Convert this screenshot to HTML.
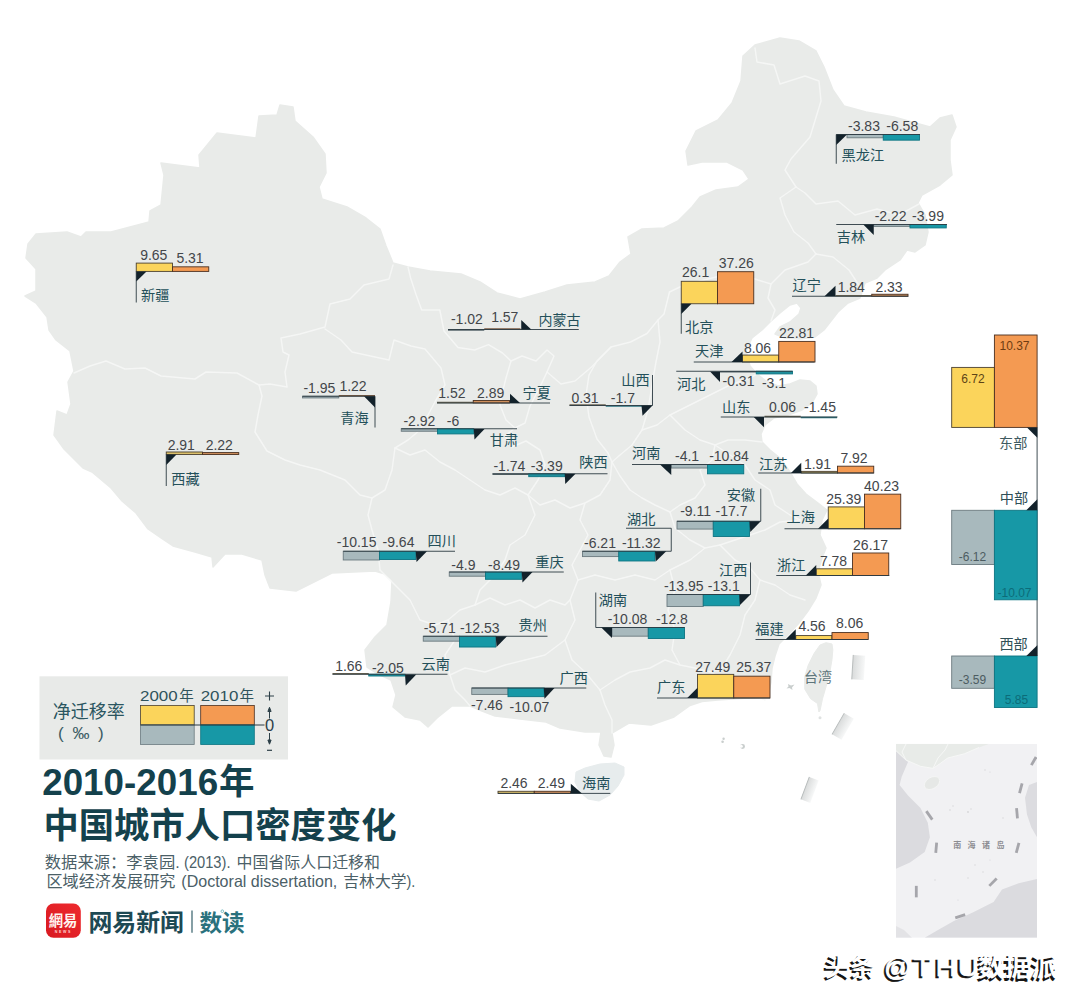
<!DOCTYPE html>
<html lang="zh"><head><meta charset="utf-8"><title>2010-2016年 中国城市人口密度变化</title>
<style>
html,body{margin:0;padding:0;background:#fff}
body{width:1080px;height:1006px;overflow:hidden;font-family:"Liberation Sans","Noto Sans CJK SC",sans-serif}
svg{display:block}
svg text{font-family:"Liberation Sans","Noto Sans CJK SC",sans-serif}
</style></head><body>
<svg width="1080" height="1006" viewBox="0 0 1080 1006"><polygon points="280,105 293,107 295,121 313,137 325,154 326,173 319,187 322,199 347,207 366,218 380,229 386,246 393,263 408,267 430,271 461,274 480,282 497,293 520,299 545,292 567,285 595,282 609,276 620,262 631,254 628,237 642,229 664,228 678,221 692,207 700,197 716,190 738,187 749,179 743,170 727,162 702,162 688,165 686,151 696,131 718,120 732,103 741,81 743,56 755,45 780,38 799,41 816,51 824,67 833,90 844,106 866,112 894,117 912,122 930,127 940,118 952,115 956,127 950,140 950,160 952,175 940,185 922,195 918,203 925,215 928,232 925,245 915,252 907,250 900,260 885,270 877,278 865,283 860,298 848,303 838,312 831,321 824,330 815,337 800,339 785,338 775,334 780,327 790,322 799,314 801,308 797,303 790,305 780,313 770,322 762,330 752,338 746,351 750,366 757,374 766,381 778,386 790,384 800,380 810,381 816,386 817,394 812,403 802,410 788,415 774,418 765,425 761,434 762,442 770,450 780,458 790,472 797,484 806,494 818,503 827,510 822,520 820,535 826,548 822,558 818,572 821,585 816,598 808,611 799,623 789,634 779,644 775,656 772,668 771,682 768,696 758,697.5 740,698.5 718,700 702,701.5 690,705.5 674,717 651,725 629,723 612,733 614,745 611,757 604,756 599,745 601,732 585,732 560,728 546,722 520,719 495,716 482,711 470,706 452,706 437,718 428,727 420,720 405,717 393,707 396,695 391,680 378,674 367,667 365,650 375,637 387,625 391,602 392,580 385,574 375,571 332,573 296,591 270,588 265,575 262,560 242,554 225,554 213,567 212,557 195,552 173,546 161,538 148,529 136,513 122,501 111,488 92,472 83,468 64,449 54,435 57,411 67,415 71,404 68,382 74,371 70,351 56,340 49,330 47,317 36,303 25,296 36,291 36,269 26,258 28,244 36,234 67,232 81,237 86,232 111,232 149,222 150,211 161,205 164,175 161,163 200,168 199,155 217,133 256,138 259,116 277,115" fill="#e9ebe9" stroke="#e9ebe9" stroke-width="1.5" stroke-linejoin="round"/>
<polygon points="576,772 585,768 600,764 615,763 624,767 624,775 618,786 610,795 599,801 588,799 580,792 575,782" fill="#e7eced" stroke="#e7eced" stroke-width="1" stroke-linejoin="round"/>
<polygon points="820,645 826,642.7 832,644 832.8,650 832,659.5 829.6,673.7 826,686.8 822.5,698.7 820,710.7 818.9,712 817.5,703.5 810.6,698.7 804.8,689.2 804.6,677.3 808.2,665.3 814.1,653.4" fill="#e9ebe9" stroke="#e9ebe9" stroke-width="1" stroke-linejoin="round"/>
<g fill="none" stroke="#f8f9f8" stroke-width="1.5" stroke-linejoin="round" stroke-linecap="round" opacity="0.8">
<polyline points="74,373 90,366 106,361 125,369 145,368 161,376 195,379 206,372 237,373 259,385"/>
<polyline points="259,385 270,384 287,387 285,372 289,355 283,352 281,338 300,334 325,327 330,304 350,299 364,285 389,279 393,265"/>
<polyline points="259,385 262,396 258,415 255,432 267,451 285,460 300,465 320,470 345,480 360,495 372,498"/>
<polyline points="372,498 368,515 372,530 378,550 380,570"/>
<polyline points="325,329 341,340 352,352 375,357 389,360 394,340 411,346 425,349 441,368 445,385 436,400 428,415 420,430 408,440 395,448"/>
<polyline points="372,498 385,490 392,470 395,448"/>
<polyline points="408,267 410.6,278 416,294.5 421.7,310 439.8,310 444,331 458,347.4 474.6,350 488.5,344.6 502.5,353 511,361"/>
<polyline points="395,448 410,455 425,450 440,462 455,470 470,480 485,490 500,495 515,488 528,495"/>
<polyline points="511,361 522,356 536,361 547,350 554,356 547,372 539,389 530,406 525,423 515,428 506,420 500,405 503,390 506,378 511,361"/>
<polyline points="515,428 505,436 512,447 526,441 540,450 545,465 538,480 528,495"/>
<polyline points="547,372 561,384 575,381 591.5,367 611,347 630.5,342 647,333.5 658,320 664,314 669.5,292"/>
<polyline points="611,347 597,361 589,375 586,395 589,417 597,439 608,453 612,462"/>
<polyline points="528,495 540,505 555,500 570,508 585,503 600,495 610,480 612,462"/>
<polyline points="658,320 660,342 656,362 652,385 648,410 642,430 632,445 620,455 612,462"/>
<polyline points="669.5,292 682,286 700,281 720,276 740,274 758,280 771,284"/>
<polyline points="771,284 785,270 808,262 816,254"/>
<polyline points="816,254 808,243 794,232 785,215 780,198 796,187"/>
<polyline points="796,187 785,170 791,159 810,137 821,101 819,81 805,76 780,84 774,65 757,62 755,48"/>
<polyline points="796,187 805,193 816,204 838,201 855,215 877,209 899,215 919,204"/>
<polyline points="816,254 833,257 849,270 860,287"/>
<polyline points="771,284 768,298 775,310 771,321"/>
<polyline points="642,430 657,425 670,415 690,405 710,395 730,385 750,378 757,374"/>
<polyline points="670,415 685,430 700,440 715,445 728,440 745,440 762,442"/>
<polyline points="715,445 712,460 700,470 705,485 695,498 680,505 670,512"/>
<polyline points="612,462 620,476 630,490 642,498 655,505 670,512"/>
<polyline points="715,445 730,455 745,465 755,480 770,490 775,505 790,515 800,520"/>
<polyline points="670,512 675,528 690,540 705,548 720,545"/>
<polyline points="720,545 735,540 750,535 765,530 780,522 800,520"/>
<polyline points="585,503 580,520 588,535 580,550 572,565 578,580"/>
<polyline points="578,580 595,575 615,580 635,575 655,580 670,570 690,560 705,548"/>
<polyline points="670,570 675,590 668,610 675,630 672,650 680,665"/>
<polyline points="720,545 735,560 750,568 760,580 755,600 745,615 740,635 730,655 722,668 710,672"/>
<polyline points="760,580 775,585 790,595 805,600"/>
<polyline points="600,690 615,680 630,672 650,668 665,660 680,665 695,668 710,672 725,680 740,690 755,695 765,700"/>
<polyline points="600,690 605,705 612,720 612,733"/>
<polyline points="578,580 570,600 575,620 565,640 572,660 585,672 600,690"/>
<polyline points="565,640 545,655 525,660 505,665 485,672 465,668 450,675"/>
<polyline points="450,675 445,655 455,640 448,620 460,610 475,605"/>
<polyline points="475,605 490,598 505,605 520,600 535,608 550,600 565,605 570,600"/>
<polyline points="528,495 535,515 525,535 510,545 505,560 495,575 480,590 475,605"/>
<polyline points="380,570 395,585 410,600 420,620 435,625 448,620"/>
<polyline points="450,675 455,690 465,700 470,706"/>
</g>
<defs><linearGradient id="dg" x1="0" x2="1" y1="0" y2="0"><stop offset="0" stop-color="#d9dbdb"/><stop offset="1" stop-color="#f7f8f8"/></linearGradient></defs>
<g transform="rotate(3.5 858.5 667.5)"><rect x="852.5" y="655.25" width="12" height="24.5" fill="url(#dg)"/><line x1="852.5" x2="852.5" y1="655.25" y2="679.75" stroke="#b4b9b9" stroke-width="0.9"/></g>
<g transform="rotate(30 842.9 726.5)"><rect x="837.4" y="714.25" width="11" height="24.5" fill="url(#dg)"/><line x1="837.4" x2="837.4" y1="714.25" y2="738.75" stroke="#b4b9b9" stroke-width="0.9"/></g>
<g transform="rotate(20.6 809.8 789.9)"><rect x="804.8" y="777.9" width="10" height="24" fill="url(#dg)"/><line x1="804.8" x2="804.8" y1="777.9" y2="801.9" stroke="#b4b9b9" stroke-width="0.9"/></g>
<circle cx="820" cy="717.8" r="1.5" fill="#dfe2e1"/>
<circle cx="742.6" cy="746.5" r="2.4" fill="#c9cecd"/><circle cx="741.3" cy="746.3" r="1.5" fill="#fff"/><circle cx="723.6" cy="738.8" r="1.2" fill="#c9cecd"/><circle cx="722.6" cy="741.8" r="1.3" fill="#c9cecd"/>
<path d="M788 684l3 1.5 3.5-1-2.5 3 .5 2.5-3-2-3 .5 2-2z" fill="#c9cecd"/>
<g font-family="Liberation Sans, Noto Sans CJK SC, sans-serif">
<g><rect x="136.25" y="263.1" width="36.25" height="8.3" fill="#fbd45b" stroke="#4a4030" stroke-width="0.9"/><rect x="172.5" y="266.83" width="36.25" height="4.57" fill="#f49a52" stroke="#4a3020" stroke-width="0.9"/><polyline points="136.25,271.4 136.25,302.5" fill="none" stroke="#2b3a42" stroke-width="0.9"/><polygon points="136.25,271.4 146.5,271.4 136.25,281.6" fill="#13222b"/><text x="141" y="300" font-size="14.2" fill="#24505a">新疆</text><text x="153.75" y="259.5" font-size="14" fill="#43464a" text-anchor="middle">9.65</text><text x="190" y="263" font-size="14" fill="#43464a" text-anchor="middle">5.31</text></g>
<g><rect x="166.25" y="452" width="36.25" height="2.5" fill="#dcc06a" stroke="#4a4030" stroke-width="0.9"/><rect x="202.5" y="452.59" width="36.25" height="1.91" fill="#cf8f5c" stroke="#4a3020" stroke-width="0.9"/><polyline points="166.25,454.5 166.25,486" fill="none" stroke="#2b3a42" stroke-width="0.9"/><polygon points="166.25,454.5 176.5,454.5 166.25,465" fill="#13222b"/><text x="171.3" y="484" font-size="14.2" fill="#24505a">西藏</text><text x="181.25" y="449.5" font-size="14" fill="#43464a" text-anchor="middle">2.91</text><text x="219.25" y="449.5" font-size="14" fill="#43464a" text-anchor="middle">2.22</text></g>
<g><rect x="302.5" y="396.25" width="36.25" height="1.68" fill="#9fb0b5" stroke="#6b7a7f" stroke-width="0.9"/><line x1="338.75" x2="375" y1="395.75" y2="395.75" stroke="#7a5a42" stroke-width="1.4"/><line x1="302.5" x2="375" y1="396.25" y2="396.25" stroke="#2b3a42" stroke-width="0.9"/><polyline points="375,396.25 375,427.5" fill="none" stroke="#2b3a42" stroke-width="0.9"/><polygon points="364,396.25 375,396.25 375,407.5" fill="#13222b"/><text x="340.3" y="423" font-size="14.2" fill="#24505a">青海</text><text x="319.4" y="393" font-size="14" fill="#43464a" text-anchor="middle">-1.95</text><text x="353" y="391" font-size="14" fill="#43464a" text-anchor="middle">1.22</text></g>
<g><line x1="448" x2="484.25" y1="330" y2="330" stroke="#56646a" stroke-width="1.4"/><line x1="484.25" x2="520.5" y1="329" y2="329" stroke="#7a5a42" stroke-width="1.4"/><line x1="448" x2="578.75" y1="329.5" y2="329.5" stroke="#2b3a42" stroke-width="0.9"/><polygon points="521.25,320 521.25,329.5 531.25,329.5" fill="#13222b"/><text x="538.4" y="324.5" font-size="14" fill="#24505a">内蒙古</text><text x="466.9" y="324.25" font-size="14" fill="#43464a" text-anchor="middle">-1.02</text><text x="504.75" y="321.75" font-size="14" fill="#43464a" text-anchor="middle">1.57</text></g>
<g><line x1="437" x2="473.25" y1="402.5" y2="402.5" stroke="#6a6250" stroke-width="1.4"/><rect x="473.25" y="400.51" width="36.25" height="2.49" fill="#cf8f5c" stroke="#4a3020" stroke-width="0.9"/><line x1="437" x2="550" y1="403" y2="403" stroke="#2b3a42" stroke-width="0.9"/><polygon points="510,393.75 510,403 520,403" fill="#13222b"/><text x="522.5" y="397.7" font-size="14.2" fill="#24505a">宁夏</text><text x="451.9" y="397.5" font-size="14" fill="#43464a" text-anchor="middle">1.52</text><text x="490.6" y="397.5" font-size="14" fill="#43464a" text-anchor="middle">2.89</text></g>
<g><rect x="401.25" y="428.75" width="36.25" height="2.51" fill="#9fb0b5" stroke="#6b7a7f" stroke-width="0.9"/><rect x="437.5" y="428.75" width="36.25" height="5.16" fill="#1798a6" stroke="#0c7482" stroke-width="0.9"/><line x1="401.25" x2="517" y1="428.75" y2="428.75" stroke="#2b3a42" stroke-width="0.9"/><polygon points="473.75,429 484.5,429 474.5,439.5" fill="#13222b"/><text x="489.7" y="445.2" font-size="14.2" fill="#24505a">甘肃</text><text x="419.4" y="425.75" font-size="14" fill="#43464a" text-anchor="middle">-2.92</text><text x="453" y="425.75" font-size="14" fill="#43464a" text-anchor="middle">-6</text></g>
<g><line x1="492.5" x2="528.75" y1="474.25" y2="474.25" stroke="#56646a" stroke-width="1.4"/><rect x="528.75" y="473.75" width="36.25" height="2.92" fill="#1f8f9c" stroke="#0c7482" stroke-width="0.9"/><line x1="492.5" x2="607.5" y1="473.75" y2="473.75" stroke="#2b3a42" stroke-width="0.9"/><polygon points="564.75,473.75 575.5,473.75 565.25,484" fill="#13222b"/><text x="579.3" y="467" font-size="14.2" fill="#24505a">陕西</text><text x="509.4" y="470.5" font-size="14" fill="#43464a" text-anchor="middle">-1.74</text><text x="546.75" y="470.5" font-size="14" fill="#43464a" text-anchor="middle">-3.39</text></g>
<g><line x1="569.5" x2="605.75" y1="405" y2="405" stroke="#6a6250" stroke-width="1.4"/><line x1="605.75" x2="642" y1="406" y2="406" stroke="#2b7580" stroke-width="1.4"/><line x1="569.5" x2="652.5" y1="405.5" y2="405.5" stroke="#2b3a42" stroke-width="0.9"/><polyline points="652.5,375 652.5,405.5" fill="none" stroke="#2b3a42" stroke-width="0.9"/><polygon points="641.5,405.5 652.5,405.5 642.5,415.75" fill="#13222b"/><text x="621.3" y="385.2" font-size="14.2" fill="#24505a">山西</text><text x="585" y="402.5" font-size="14" fill="#43464a" text-anchor="middle">0.31</text><text x="622.9" y="402.5" font-size="14" fill="#43464a" text-anchor="middle">-1.7</text></g>
<g><rect x="681.25" y="281.3" width="36.25" height="22.45" fill="#fbd45b" stroke="#4a4030" stroke-width="0.9"/><rect x="717.5" y="271.71" width="36.25" height="32.04" fill="#f49a52" stroke="#4a3020" stroke-width="0.9"/><polyline points="681.25,303.75 681.25,333.75" fill="none" stroke="#2b3a42" stroke-width="0.9"/><polygon points="681.25,303.75 691.5,303.75 681.25,314" fill="#13222b"/><text x="685" y="332" font-size="14.2" fill="#24505a">北京</text><text x="695.6" y="277" font-size="14" fill="#43464a" text-anchor="middle">26.1</text><text x="736.25" y="267.5" font-size="14" fill="#43464a" text-anchor="middle">37.26</text></g>
<g><line x1="835.5" x2="871.75" y1="295.75" y2="295.75" stroke="#6a6250" stroke-width="1.4"/><rect x="871.75" y="294.25" width="36.25" height="2" fill="#cf8f5c" stroke="#4a3020" stroke-width="0.9"/><line x1="792" x2="908.25" y1="296.25" y2="296.25" stroke="#2b3a42" stroke-width="0.9"/><polygon points="824.5,296.25 835.5,296.25 835.5,285.75" fill="#13222b"/><text x="792.5" y="290.2" font-size="14.2" fill="#24505a">辽宁</text><text x="851.25" y="292" font-size="14" fill="#43464a" text-anchor="middle">1.84</text><text x="889" y="292" font-size="14" fill="#43464a" text-anchor="middle">2.33</text></g>
<g><rect x="742.5" y="355.07" width="36.25" height="6.93" fill="#fbd45b" stroke="#4a4030" stroke-width="0.9"/><rect x="778.75" y="341.4" width="36.25" height="20.6" fill="#f49a52" stroke="#4a3020" stroke-width="0.9"/><line x1="693.75" x2="814.5" y1="362" y2="362" stroke="#2b3a42" stroke-width="0.9"/><polygon points="731.5,362 742.5,362 742.5,351.5" fill="#13222b"/><text x="695.1" y="356" font-size="14.2" fill="#24505a">天津</text><text x="757.5" y="352.5" font-size="14" fill="#43464a" text-anchor="middle">8.06</text><text x="796.6" y="337.5" font-size="14" fill="#43464a" text-anchor="middle">22.81</text></g>
<g><line x1="720" x2="756.25" y1="371.75" y2="371.75" stroke="#56646a" stroke-width="1.4"/><rect x="756.25" y="371.25" width="36.25" height="2.67" fill="#1f8f9c" stroke="#0c7482" stroke-width="0.9"/><line x1="676.25" x2="792.5" y1="371.25" y2="371.25" stroke="#2b3a42" stroke-width="0.9"/><polygon points="710,371.5 720,371.5 720,382" fill="#13222b"/><text x="677" y="388.5" font-size="14.2" fill="#24505a">河北</text><text x="738.5" y="386.25" font-size="14" fill="#43464a" text-anchor="middle">-0.31</text><text x="774" y="388" font-size="14" fill="#43464a" text-anchor="middle">-3.1</text></g>
<g><line x1="764.5" x2="800.75" y1="416.5" y2="416.5" stroke="#6a6250" stroke-width="1.4"/><line x1="800.75" x2="837" y1="417.5" y2="417.5" stroke="#2b7580" stroke-width="1.4"/><line x1="720.75" x2="837.5" y1="417" y2="417" stroke="#2b3a42" stroke-width="0.9"/><polygon points="753.75,417 764,417 764,427.25" fill="#13222b"/><text x="722" y="411.5" font-size="14.2" fill="#24505a">山东</text><text x="782.5" y="412" font-size="14" fill="#43464a" text-anchor="middle">0.06</text><text x="820" y="412" font-size="14" fill="#43464a" text-anchor="middle">-1.45</text></g>
<g><rect x="671.25" y="464.5" width="36.25" height="3.53" fill="#a8b9bd" stroke="#6b7a7f" stroke-width="0.9"/><rect x="707.5" y="464.5" width="36.25" height="9.32" fill="#1798a6" stroke="#0c7482" stroke-width="0.9"/><line x1="632" x2="743.75" y1="464.5" y2="464.5" stroke="#2b3a42" stroke-width="0.9"/><polygon points="660,464.5 671.25,464.5 671.25,475" fill="#13222b"/><text x="632" y="457.8" font-size="14.2" fill="#24505a">河南</text><text x="687.1" y="461.25" font-size="14" fill="#43464a" text-anchor="middle">-4.1</text><text x="729" y="461.25" font-size="14" fill="#43464a" text-anchor="middle">-10.84</text></g>
<g><rect x="801.25" y="471.36" width="36.25" height="1.64" fill="#dcc06a" stroke="#4a4030" stroke-width="0.9"/><rect x="837.5" y="466.19" width="36.25" height="6.81" fill="#f49a52" stroke="#4a3020" stroke-width="0.9"/><line x1="758.25" x2="873.75" y1="473" y2="473" stroke="#2b3a42" stroke-width="0.9"/><polygon points="791,473 801.25,473 801.25,462.75" fill="#13222b"/><text x="759" y="468.5" font-size="14.2" fill="#24505a">江苏</text><text x="817.5" y="468.75" font-size="14" fill="#43464a" text-anchor="middle">1.91</text><text x="854" y="462.5" font-size="14" fill="#43464a" text-anchor="middle">7.92</text></g>
<g><rect x="677" y="521.25" width="36.25" height="7.83" fill="#a8b9bd" stroke="#6b7a7f" stroke-width="0.9"/><rect x="713.25" y="521.25" width="36.25" height="15.22" fill="#1798a6" stroke="#0c7482" stroke-width="0.9"/><line x1="677" x2="760.75" y1="521.25" y2="521.25" stroke="#2b3a42" stroke-width="0.9"/><polyline points="760.75,488.75 760.75,521.25" fill="none" stroke="#2b3a42" stroke-width="0.9"/><polygon points="749.5,521.25 760.75,521.25 750.25,532" fill="#13222b"/><text x="726.7" y="499.5" font-size="14.2" fill="#24505a">安徽</text><text x="695.6" y="516.25" font-size="14" fill="#43464a" text-anchor="middle">-9.11</text><text x="731.5" y="516.25" font-size="14" fill="#43464a" text-anchor="middle">-17.7</text></g>
<g><rect x="582.5" y="551.25" width="36.25" height="5.34" fill="#a8b9bd" stroke="#6b7a7f" stroke-width="0.9"/><rect x="618.75" y="551.25" width="36.25" height="9.74" fill="#1798a6" stroke="#0c7482" stroke-width="0.9"/><line x1="582.5" x2="671.25" y1="551.25" y2="551.25" stroke="#2b3a42" stroke-width="0.9"/><polyline points="626,528.25 671.25,528.25 671.25,551.25" fill="none" stroke="#2b3a42" stroke-width="0.9"/><polygon points="655,551.25 666.25,551.25 655.75,561.5" fill="#13222b"/><text x="627.1" y="524" font-size="14.2" fill="#24505a">湖北</text><text x="600" y="548" font-size="14" fill="#43464a" text-anchor="middle">-6.21</text><text x="641.25" y="548" font-size="14" fill="#43464a" text-anchor="middle">-11.32</text></g>
<g><rect x="667" y="594.5" width="36.25" height="12" fill="#a8b9bd" stroke="#6b7a7f" stroke-width="0.9"/><rect x="703.25" y="594.5" width="36.25" height="11.27" fill="#1798a6" stroke="#0c7482" stroke-width="0.9"/><line x1="667" x2="750.5" y1="594.5" y2="594.5" stroke="#2b3a42" stroke-width="0.9"/><polyline points="750.5,562.5 750.5,594.5" fill="none" stroke="#2b3a42" stroke-width="0.9"/><polygon points="739.25,594.5 750.5,594.5 740,605" fill="#13222b"/><text x="719" y="574.5" font-size="14.2" fill="#24505a">江西</text><text x="683.75" y="591.25" font-size="14" fill="#43464a" text-anchor="middle">-13.95</text><text x="723.75" y="591.25" font-size="14" fill="#43464a" text-anchor="middle">-13.1</text></g>
<g><rect x="612" y="627.5" width="36.25" height="8.67" fill="#a8b9bd" stroke="#6b7a7f" stroke-width="0.9"/><rect x="648.25" y="627.5" width="36.25" height="11.01" fill="#1798a6" stroke="#0c7482" stroke-width="0.9"/><line x1="595.75" x2="684.5" y1="627.5" y2="627.5" stroke="#2b3a42" stroke-width="0.9"/><polyline points="595.75,592.5 595.75,627.5" fill="none" stroke="#2b3a42" stroke-width="0.9"/><polygon points="601.25,627.5 612,627.5 612,638" fill="#13222b"/><text x="598.8" y="604.8" font-size="14.2" fill="#24505a">湖南</text><text x="627.5" y="623.75" font-size="14" fill="#43464a" text-anchor="middle">-10.08</text><text x="671.9" y="623.75" font-size="14" fill="#43464a" text-anchor="middle">-12.8</text></g>
<g><rect x="828.25" y="506.91" width="36.25" height="21.84" fill="#fbd45b" stroke="#4a4030" stroke-width="0.9"/><rect x="864.5" y="494.15" width="36.25" height="34.6" fill="#f49a52" stroke="#4a3020" stroke-width="0.9"/><line x1="784.5" x2="900.5" y1="528.75" y2="528.75" stroke="#2b3a42" stroke-width="0.9"/><polygon points="818,528.75 828.25,528.75 828.25,518.5" fill="#13222b"/><text x="786.5" y="522" font-size="14.2" fill="#24505a">上海</text><text x="843.75" y="503.75" font-size="14" fill="#43464a" text-anchor="middle">25.39</text><text x="881.6" y="490.5" font-size="14" fill="#43464a" text-anchor="middle">40.23</text></g>
<g><rect x="816.25" y="568.81" width="36.25" height="6.69" fill="#fbd45b" stroke="#4a4030" stroke-width="0.9"/><rect x="852.5" y="552.99" width="36.25" height="22.51" fill="#f49a52" stroke="#4a3020" stroke-width="0.9"/><line x1="776.25" x2="889.25" y1="575.5" y2="575.5" stroke="#2b3a42" stroke-width="0.9"/><polygon points="805.75,575.5 816.25,575.5 816.25,565" fill="#13222b"/><text x="777" y="569.5" font-size="14.2" fill="#24505a">浙江</text><text x="833.5" y="565.75" font-size="14" fill="#43464a" text-anchor="middle">7.78</text><text x="870.6" y="549.5" font-size="14" fill="#43464a" text-anchor="middle">26.17</text></g>
<g><rect x="795.75" y="635.58" width="36.25" height="3.92" fill="#fbd45b" stroke="#4a4030" stroke-width="0.9"/><rect x="832" y="632.57" width="36.25" height="6.93" fill="#f49a52" stroke="#4a3020" stroke-width="0.9"/><line x1="755.5" x2="868" y1="639.5" y2="639.5" stroke="#2b3a42" stroke-width="0.9"/><polygon points="785.5,639.5 795.75,639.5 795.75,629.25" fill="#13222b"/><text x="755.3" y="634" font-size="14.2" fill="#24505a">福建</text><text x="812" y="630.5" font-size="14" fill="#43464a" text-anchor="middle">4.56</text><text x="849.6" y="627.5" font-size="14" fill="#43464a" text-anchor="middle">8.06</text></g>
<g><rect x="697.5" y="674.36" width="36.25" height="23.64" fill="#fbd45b" stroke="#4a4030" stroke-width="0.9"/><rect x="733.75" y="676.18" width="36.25" height="21.82" fill="#f49a52" stroke="#4a3020" stroke-width="0.9"/><line x1="657" x2="770" y1="698" y2="698" stroke="#2b3a42" stroke-width="0.9"/><polygon points="687.25,698 697.5,698 697.5,687.75" fill="#13222b"/><text x="657.1" y="692" font-size="14.2" fill="#24505a">广东</text><text x="712.75" y="672" font-size="14" fill="#43464a" text-anchor="middle">27.49</text><text x="753.75" y="672" font-size="14" fill="#43464a" text-anchor="middle">25.37</text></g>
<g><rect x="343.25" y="551.25" width="36.25" height="8.73" fill="#a8b9bd" stroke="#6b7a7f" stroke-width="0.9"/><rect x="379.5" y="551.25" width="36.25" height="8.29" fill="#1798a6" stroke="#0c7482" stroke-width="0.9"/><line x1="343.25" x2="455" y1="551.25" y2="551.25" stroke="#2b3a42" stroke-width="0.9"/><polygon points="415.75,551.25 427,551.25 416.5,562" fill="#13222b"/><text x="427.5" y="545.5" font-size="14.2" fill="#24505a">四川</text><text x="356.6" y="547" font-size="14" fill="#43464a" text-anchor="middle">-10.15</text><text x="398.5" y="547" font-size="14" fill="#43464a" text-anchor="middle">-9.64</text></g>
<g><rect x="449.25" y="572" width="36.25" height="4.21" fill="#a8b9bd" stroke="#6b7a7f" stroke-width="0.9"/><rect x="485.5" y="572" width="36.25" height="7.3" fill="#1798a6" stroke="#0c7482" stroke-width="0.9"/><line x1="449.25" x2="563.75" y1="572" y2="572" stroke="#2b3a42" stroke-width="0.9"/><polygon points="521.75,572 532.5,572 522.5,582.5" fill="#13222b"/><text x="535.2" y="567" font-size="14.2" fill="#24505a">重庆</text><text x="463.4" y="569.5" font-size="14" fill="#43464a" text-anchor="middle">-4.9</text><text x="504" y="569.5" font-size="14" fill="#43464a" text-anchor="middle">-8.49</text></g>
<g><rect x="423.25" y="636.25" width="36.25" height="4.91" fill="#a8b9bd" stroke="#6b7a7f" stroke-width="0.9"/><rect x="459.5" y="636.25" width="36.25" height="10.78" fill="#1798a6" stroke="#0c7482" stroke-width="0.9"/><line x1="423.25" x2="547.5" y1="636.25" y2="636.25" stroke="#2b3a42" stroke-width="0.9"/><polygon points="495.75,636.25 507,636.25 496.5,647" fill="#13222b"/><text x="518.6" y="630.3" font-size="14.2" fill="#24505a">贵州</text><text x="439.75" y="633.25" font-size="14" fill="#43464a" text-anchor="middle">-5.71</text><text x="479.75" y="633.25" font-size="14" fill="#43464a" text-anchor="middle">-12.53</text></g>
<g><line x1="332.5" x2="368.75" y1="673.75" y2="673.75" stroke="#6a6250" stroke-width="1.4"/><rect x="368.75" y="674.25" width="36.25" height="1.76" fill="#1f8f9c" stroke="#0c7482" stroke-width="0.9"/><line x1="332.5" x2="447.5" y1="674.25" y2="674.25" stroke="#2b3a42" stroke-width="0.9"/><polygon points="405,674.5 416.25,674.5 405.75,685.5" fill="#13222b"/><text x="421.6" y="668.5" font-size="14.2" fill="#24505a">云南</text><text x="348.75" y="670.75" font-size="14" fill="#43464a" text-anchor="middle">1.66</text><text x="387.9" y="672.5" font-size="14" fill="#43464a" text-anchor="middle">-2.05</text></g>
<g><rect x="471.75" y="688" width="36.25" height="6.42" fill="#a8b9bd" stroke="#6b7a7f" stroke-width="0.9"/><rect x="508" y="688" width="36.25" height="8.66" fill="#1798a6" stroke="#0c7482" stroke-width="0.9"/><line x1="471.75" x2="586.25" y1="688" y2="688" stroke="#2b3a42" stroke-width="0.9"/><polygon points="543.75,688 554.5,688 544.5,698.75" fill="#13222b"/><text x="559.6" y="682.8" font-size="14.2" fill="#24505a">广西</text><text x="486.9" y="710" font-size="14" fill="#43464a" text-anchor="middle">-7.46</text><text x="529.4" y="711.75" font-size="14" fill="#43464a" text-anchor="middle">-10.07</text></g>
<g><rect x="498" y="791.28" width="36.25" height="2.12" fill="#dcc06a" stroke="#4a4030" stroke-width="0.9"/><rect x="534.25" y="791.26" width="36.25" height="2.14" fill="#cf8f5c" stroke="#4a3020" stroke-width="0.9"/><line x1="498" x2="610.3" y1="793.4" y2="793.4" stroke="#2b3a42" stroke-width="0.9"/><polygon points="570.8,783.7 570.8,793.4 582,793.4" fill="#13222b"/><text x="582.1" y="788" font-size="14.2" fill="#24505a">海南</text><text x="514" y="788" font-size="14" fill="#43464a" text-anchor="middle">2.46</text><text x="551.4" y="788" font-size="14" fill="#43464a" text-anchor="middle">2.49</text></g>
<g><rect x="847" y="134.5" width="36.25" height="3.29" fill="#a8b9bd" stroke="#6b7a7f" stroke-width="0.9"/><rect x="883.25" y="134.5" width="36.25" height="5.66" fill="#1798a6" stroke="#0c7482" stroke-width="0.9"/><line x1="836.25" x2="920" y1="134.5" y2="134.5" stroke="#2b3a42" stroke-width="0.9"/><polyline points="836.25,134.5 836.25,163.75" fill="none" stroke="#2b3a42" stroke-width="0.9"/><polygon points="836.25,134.5 847,134.5 836.25,145" fill="#13222b"/><text x="841.5" y="159.5" font-size="14.2" fill="#24505a">黑龙江</text><text x="864" y="130.5" font-size="14" fill="#43464a" text-anchor="middle">-3.83</text><text x="902.25" y="130.5" font-size="14" fill="#43464a" text-anchor="middle">-6.58</text></g>
<g><rect x="873.75" y="224.5" width="36.25" height="1.91" fill="#9fb0b5" stroke="#6b7a7f" stroke-width="0.9"/><rect x="910" y="224.5" width="36.25" height="3.43" fill="#1798a6" stroke="#0c7482" stroke-width="0.9"/><line x1="836.25" x2="947" y1="224.5" y2="224.5" stroke="#2b3a42" stroke-width="0.9"/><polygon points="863.25,224.5 873.75,224.5 873.75,235" fill="#13222b"/><text x="836.7" y="241.7" font-size="14.2" fill="#24505a">吉林</text><text x="890.6" y="221.25" font-size="14" fill="#43464a" text-anchor="middle">-2.22</text><text x="928" y="221.25" font-size="14" fill="#43464a" text-anchor="middle">-3.99</text></g>
<text x="804" y="681.5" font-size="14" fill="#5d757b">台湾</text>
<line x1="1037.1" x2="1037.1" y1="427.4" y2="656" stroke="#2b3a42" stroke-width="0.9"/>
<rect x="951.7" y="367.4" width="42.7" height="60" fill="#fbd45b" stroke="#4a4030" stroke-width="0.9"/>
<rect x="994.4" y="335" width="42.7" height="92.4" fill="#f49a52" stroke="#4a3020" stroke-width="0.9"/>
<polygon points="1027,427.4 1037.3,427.4 1037.3,437.8" fill="#13222b"/>
<text x="999" y="447.7" font-size="14.2" fill="#3e5a60">东部</text>
<text x="973" y="383" font-size="12" fill="#5d4416" text-anchor="middle">6.72</text>
<text x="1014.5" y="350" font-size="12" fill="#6e3c12" text-anchor="middle">10.37</text>
<rect x="951.7" y="510.3" width="42.7" height="54.2" fill="#a8b9bd" stroke="#6b7a7f" stroke-width="0.9"/>
<rect x="994.4" y="510.3" width="42.7" height="89.5" fill="#1798a6" stroke="#0c7482" stroke-width="0.9"/>
<polygon points="1026.3,510.3 1037.3,510.3 1037.3,499.3" fill="#13222b"/>
<text x="999.7" y="502.5" font-size="14.2" fill="#2f4f57">中部</text>
<text x="972.5" y="560.8" font-size="12" fill="#4d5c61" text-anchor="middle">-6.12</text>
<text x="1014.5" y="597" font-size="12" fill="#0c6c79" text-anchor="middle">-10.07</text>
<rect x="951.7" y="656" width="42.7" height="32.3" fill="#a8b9bd" stroke="#6b7a7f" stroke-width="0.9"/>
<rect x="994.4" y="656" width="42.7" height="51.5" fill="#1798a6" stroke="#0c7482" stroke-width="0.9"/>
<polygon points="1026.3,656 1037.3,656 1037.3,645.2" fill="#13222b"/>
<text x="999.4" y="648.5" font-size="14.2" fill="#2f4f57">西部</text>
<text x="972.5" y="684.4" font-size="12" fill="#4d5c61" text-anchor="middle">-3.59</text>
<text x="1016.5" y="703.8" font-size="12" fill="#0c6c79" text-anchor="middle">5.85</text>
<rect x="39.5" y="676.3" width="248.5" height="83.2" fill="#e8eae8"/>
<text x="52.8" y="717.5" font-size="18" fill="#2a5560">净迁移率</text>
<text x="58" y="739" font-size="17" fill="#3a5a63" letter-spacing="2">( ‰ )</text>
<text x="140" y="700.9" font-size="15.5" fill="#2f535c" textLength="37.6" lengthAdjust="spacingAndGlyphs">2000</text>
<text x="179.2" y="700.6" font-size="14.5" fill="#2f535c">年</text>
<text x="200.7" y="700.9" font-size="15.5" fill="#2f535c" textLength="37.6" lengthAdjust="spacingAndGlyphs">2010</text>
<text x="239.5" y="700.6" font-size="14.5" fill="#2f535c">年</text>
<rect x="140.5" y="705.5" width="53.7" height="19.5" fill="#fbd45b" stroke="#4a4030" stroke-width="0.8"/>
<rect x="140.5" y="725" width="53.7" height="19.5" fill="#a8b9bd" stroke="#6b7a7f" stroke-width="0.8"/>
<rect x="200.7" y="705.5" width="53.6" height="19.5" fill="#f49a52" stroke="#4a3020" stroke-width="0.8"/>
<rect x="200.7" y="725" width="53.6" height="19.5" fill="#1798a6" stroke="#0c7482" stroke-width="0.8"/>
<line x1="140.5" x2="264.5" y1="725" y2="725" stroke="#2b3a42" stroke-width="1"/>
<text x="269.5" y="731" font-size="16.5" fill="#2d4048" text-anchor="middle">0</text>
<path d="M265 696H274M269.5 691.5V700.5" stroke="#2d4048" stroke-width="1.1" fill="none"/>
<path d="M267 750.3H272" stroke="#2d4048" stroke-width="1.2" fill="none"/>
<path d="M269.5 718.5V708.5M267.9 711.5L269.5 707.3L271.1 711.5Z" stroke="#2d4048" stroke-width="1" fill="#2d4048"/>
<path d="M269.5 733V743M267.9 740L269.5 744.2L271.1 740Z" stroke="#2d4048" stroke-width="1" fill="#2d4048"/>
<text x="42.2" y="794.6" font-size="37.2" font-weight="700" fill="#14414c" textLength="176" lengthAdjust="spacingAndGlyphs">2010-2016</text>
<text x="219" y="794.4" font-size="35.5" font-weight="700" fill="#14414c">年</text>
<text x="43.5" y="838" font-size="35.3" font-weight="700" fill="#14414c" textLength="353" lengthAdjust="spacingAndGlyphs">中国城市人口密度变化</text>
<text x="44.8" y="867.9" font-size="16.3" fill="#4b6067" textLength="130.4" lengthAdjust="spacingAndGlyphs">数据来源：李袁园</text>
<text x="175.2" y="867.9" font-size="16" fill="#4b6067">.</text>
<text x="184" y="867.9" font-size="16.5" fill="#4b6067" textLength="46.5" lengthAdjust="spacingAndGlyphs">(2013).</text>
<text x="236.5" y="867.9" font-size="16" fill="#4b6067" textLength="143.5" lengthAdjust="spacingAndGlyphs">中国省际人口迁移和</text>
<text x="46.5" y="887.3" font-size="16.1" fill="#4b6067" textLength="129" lengthAdjust="spacingAndGlyphs">区域经济发展研究</text>
<text x="181.3" y="887.3" font-size="16.5" fill="#4b6067" textLength="156" lengthAdjust="spacingAndGlyphs">(Doctoral dissertation,</text>
<text x="343.3" y="887.3" font-size="15.8" fill="#4b6067" textLength="63.2" lengthAdjust="spacingAndGlyphs">吉林大学</text>
<text x="406.5" y="887.3" font-size="16.5" fill="#4b6067" textLength="8.8" lengthAdjust="spacingAndGlyphs">).</text>
<defs><linearGradient id="lg" x1="0" y1="1" x2="1" y2="0"><stop offset="0" stop-color="#d81920"/><stop offset="1" stop-color="#ee2a2e"/></linearGradient></defs>
<rect x="46" y="903.6" width="34.8" height="34.2" rx="7.5" fill="url(#lg)"/>
<text x="48.8" y="925.8" font-size="14.3" font-weight="700" fill="#fff5f0">網易</text>
<text x="63.4" y="932.8" font-size="3.6" fill="#ffd8d4" text-anchor="middle" letter-spacing="1.6" font-weight="700">NEWS</text>
<text x="88.5" y="930.8" font-size="24" font-weight="700" fill="#1d4954" textLength="95.5" lengthAdjust="spacingAndGlyphs">网易新闻</text>
<line x1="192" x2="192" y1="910.5" y2="932.8" stroke="#35606a" stroke-width="1.2"/>
<text x="199.5" y="930.8" font-size="22.5" font-weight="700" fill="#2a717d">数读</text>
<circle cx="222.3" cy="911.2" r="1.3" fill="none" stroke="#5fb0b8" stroke-width="0.8"/>
<g>
<clipPath id="ic"><rect x="896" y="743.8" width="141" height="193.9"/></clipPath>
<g clip-path="url(#ic)">
<rect x="896" y="743.8" width="141" height="194" fill="#f1f1f3"/>
<polygon points="896,748 908,762 901.7,776.8 899.6,785 908,795.6 920.5,808 927.8,822.7 929.9,837.3 924.7,852 910,862.4 896,868.7" fill="#dbdbdf"/>
<polygon points="896,743.8 989.4,743.8 979,747.5 964.4,753.8 947.7,758 939.3,764.2 933,768.4 920.5,766.3 905.9,760 896,750.7" fill="#e8ebe8"/>
<path d="M896 750.7L905.9 760L920.5 766.3L933 768.4L939.3 764.2L947.7 758L964.4 753.8L979 747.5M905.9 760L902 752L906 744M933 768.4L938 758L945 750L948 744" fill="none" stroke="#f6f7f6" stroke-width="1"/>
<ellipse cx="932" cy="783" rx="8.4" ry="5.6" fill="#e6e8e6" stroke="#f5f6f5" stroke-width="0.8" transform="rotate(-32 932 783)"/>
<polygon points="1037,879 1018.7,883.3 1002,889.5 993.6,902 972.7,912.5 953.9,920.9 939.3,929.2 924.7,937.8 1037,937.8" fill="#dbdbdf"/>
<polygon points="1037,782 1029,785 1025,797.7 1027,814.4 1031.2,826.9 1037,837.3" fill="#dcdce0"/>
<polygon points="896,926 904,930 912,937.8 896,937.8" fill="#e3e3e6"/>
<rect x="1032.3" y="756.4" width="2.8" height="9.4" fill="#a6a6ab" opacity="1" transform="rotate(30 1033.7 761.1)"/>
<rect x="1019.4" y="783.3" width="2.8" height="10" fill="#a6a6ab" opacity="1" transform="rotate(15 1020.8 788.3)"/>
<rect x="1015.6" y="808.1" width="2.8" height="10.4" fill="#a6a6ab" opacity="1" transform="rotate(-5 1017 813.3)"/>
<rect x="1016.2" y="842.6" width="2.8" height="10.4" fill="#a6a6ab" opacity="1" transform="rotate(15 1017.6 847.8)"/>
<rect x="991.6" y="877" width="2.8" height="10.4" fill="#a6a6ab" opacity="1" transform="rotate(45 993 882.2)"/>
<rect x="958.8" y="911.1" width="2.8" height="10.4" fill="#a6a6ab" opacity="1" transform="rotate(72 960.2 916.3)"/>
<rect x="914.9" y="885.85" width="2.8" height="11.5" fill="#a6a6ab" opacity="1" transform="rotate(0 916.3 891.6)"/>
<rect x="934.8" y="842.6" width="2.8" height="10.4" fill="#a6a6ab" opacity="1" transform="rotate(5 936.2 847.8)"/>
<rect x="927.9" y="810.2" width="2.8" height="10.4" fill="#a6a6ab" opacity="1" transform="rotate(-35 929.3 815.4)"/>
<text x="953.2" y="847.8" font-size="8" font-weight="700" letter-spacing="6.4" fill="#8c8c91">南海诸岛</text>
<g fill="#d5d5d9"><circle cx="950" cy="810" r="0.8"/><circle cx="953" cy="806" r="0.7"/><circle cx="968" cy="812" r="0.9"/><circle cx="971" cy="809" r="0.7"/><circle cx="985" cy="770" r="0.7"/><circle cx="990" cy="772" r="0.6"/><circle cx="975" cy="865" r="0.7"/><circle cx="983" cy="872" r="0.7"/><circle cx="968" cy="878" r="0.7"/><circle cx="990" cy="860" r="0.6"/><circle cx="935" cy="880" r="0.7"/><circle cx="958" cy="900" r="0.6"/><circle cx="1003" cy="818" r="0.7"/></g>
</g></g>
<g><text transform="translate(0 0)" x="822.5" y="978.3" font-size="25.5" font-weight="700" fill="#151515">头条</text><g transform="translate(0 0)" font-size="26.5" fill="#151515" stroke="#151515" stroke-width="0.5"><text x="882" y="977.8" textLength="27.5" lengthAdjust="spacingAndGlyphs">@</text><text x="911.3" y="977.8" textLength="18.5" lengthAdjust="spacingAndGlyphs">T</text><text x="933.3" y="977.8" textLength="21" lengthAdjust="spacingAndGlyphs">H</text><text x="955.6" y="977.8" textLength="21" lengthAdjust="spacingAndGlyphs">U</text></g><text transform="translate(0 0)" x="976" y="978.5" font-size="26.5" font-weight="700" fill="#151515">数据派</text><text transform="translate(2.1 -2.1)" x="822.5" y="978.3" font-size="25.5" font-weight="700" fill="#fff">头条</text><g transform="translate(2.1 -2.1)" font-size="26.5" fill="#fff" stroke="#fff" stroke-width="0.5"><text x="882" y="977.8" textLength="27.5" lengthAdjust="spacingAndGlyphs">@</text><text x="911.3" y="977.8" textLength="18.5" lengthAdjust="spacingAndGlyphs">T</text><text x="933.3" y="977.8" textLength="21" lengthAdjust="spacingAndGlyphs">H</text><text x="955.6" y="977.8" textLength="21" lengthAdjust="spacingAndGlyphs">U</text></g><text transform="translate(2.1 -2.1)" x="976" y="978.5" font-size="26.5" font-weight="700" fill="#fff">数据派</text></g>
</g></svg>
</body></html>
